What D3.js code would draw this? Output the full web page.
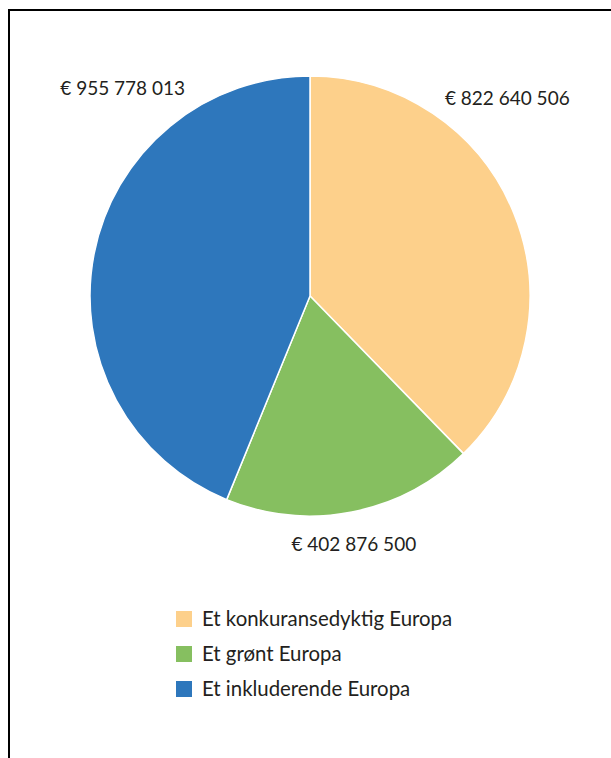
<!DOCTYPE html>
<html>
<head>
<meta charset="utf-8">
<script src="https://cdn.jsdelivr.net/npm/d3@7"></script>
<style>
  html, body { margin: 0; padding: 0; background: #fff; }
  svg { display: block; font-family: Lato, "Open Sans", sans-serif; }
</style>
</head>
<body>
<div id="chart"></div>
<script>
const categories = ["Et konkuransedyktig Europa", "Et grønt Europa", "Et inkluderende Europa"];
const values = [822640506, 402876500, 955778013];
const colors = ["#FDD08B", "#86BF60", "#2E77BC"];

const WIDTH = 611;
const HEIGHT = 758;
const center = { x: 310, y: 296 };
const radius = 220;

// where each value label sits: angle (deg from 12 o'clock) and distance from centre
const labelPlacement = [
  { angle: 45, dist: 279 },
  { angle: 170, dist: 252 },
  { angle: -42, dist: 280 },
];

const locale = d3.formatLocale({ decimal: ",", thousands: " ", grouping: [3], currency: ["€ ", ""] });
const fmt = locale.format("$,");

const data = categories.map((c, i) => ({ name: c, value: values[i], color: colors[i] }));

const svg = d3.select("#chart")
  .append("svg")
  .attr("width", WIDTH)
  .attr("height", HEIGHT)
  .attr("viewBox", `0 0 ${WIDTH} ${HEIGHT}`);

// partial frame (left and top edges)
svg.append("path")
  .attr("d", `M9,${HEIGHT} V10 H${WIDTH}`)
  .attr("fill", "none")
  .attr("stroke", "#000")
  .attr("stroke-width", 2);

const pie = d3.pie().sort(null).value(d => d.value);
const arc = d3.arc().innerRadius(0).outerRadius(radius);

const g = svg.append("g")
  .attr("transform", `translate(${center.x} ${center.y})`);

const arcs = pie(data);

g.selectAll("path.slice")
  .data(arcs)
  .join("path")
  .classed("slice", true)
  .attr("d", arc)
  .attr("fill", d => d.data.color)
  .attr("stroke", "#fff")
  .attr("stroke-width", 1.5)
  .attr("stroke-linejoin", "round");

g.selectAll("text.value")
  .data(arcs)
  .join("text")
  .classed("value", true)
  .attr("x", (d, i) => labelPlacement[i].dist * Math.sin(labelPlacement[i].angle * Math.PI / 180))
  .attr("y", (d, i) => -labelPlacement[i].dist * Math.cos(labelPlacement[i].angle * Math.PI / 180))
  .attr("dy", "0.35em")
  .attr("text-anchor", "middle")
  .attr("font-size", 19)
  .attr("fill", "#231f20")
  .text(d => fmt(d.data.value));

// legend
const legend = svg.append("g")
  .attr("transform", "translate(176 611)");

const item = legend.selectAll("g.item")
  .data(data)
  .join("g")
  .classed("item", true)
  .attr("transform", (d, i) => `translate(0 ${i * 35})`);

item.append("rect")
  .attr("width", 16)
  .attr("height", 16)
  .attr("fill", d => d.color);

item.append("text")
  .attr("x", 26)
  .attr("y", 8)
  .attr("dy", "0.35em")
  .attr("font-size", 20.4)
  .attr("fill", "#231f20")
  .text(d => d.name);
</script>
</body>
</html>
